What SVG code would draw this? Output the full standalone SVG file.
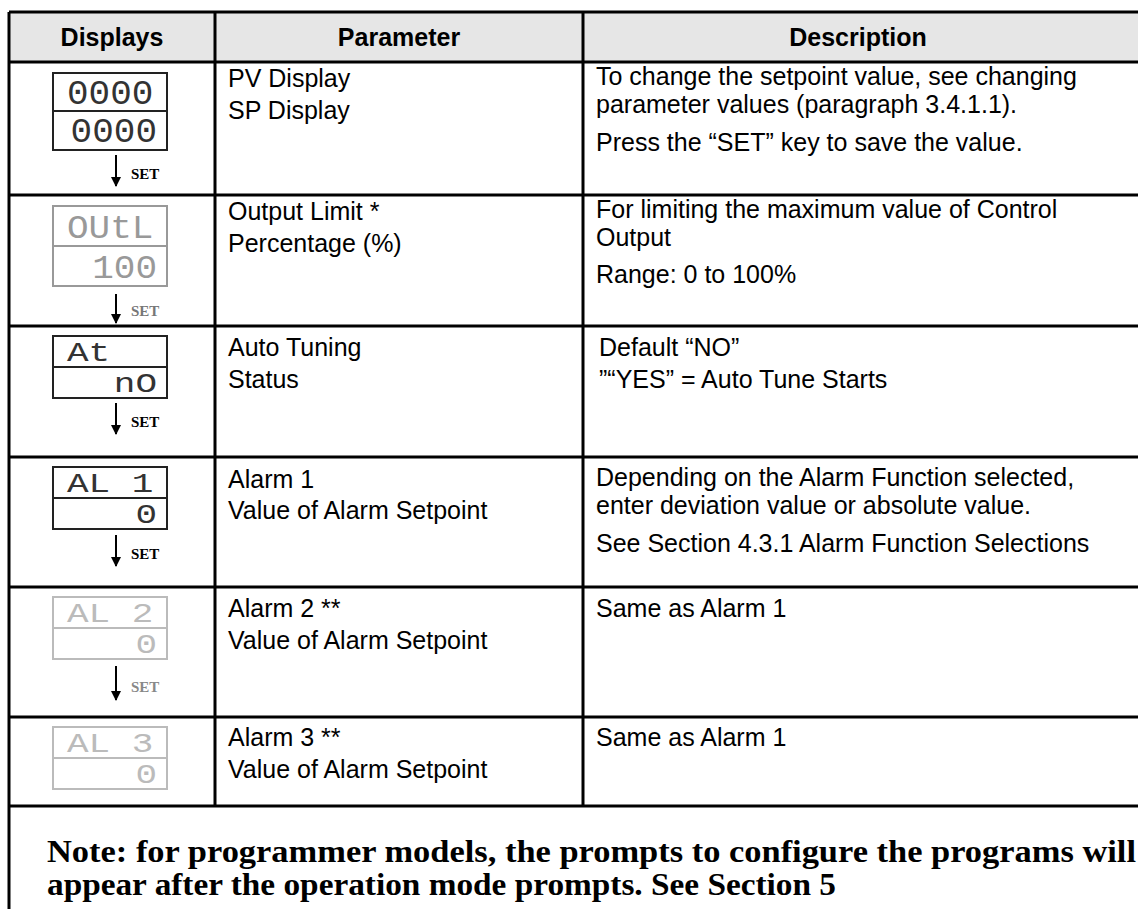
<svg xmlns="http://www.w3.org/2000/svg" width="1138" height="909" viewBox="0 0 1138 909">
<style>
.grid{stroke:#000;stroke-width:3;fill:none}
.hdr{font-family:"Liberation Sans",Arial,sans-serif;font-weight:bold;font-size:25px;fill:#000;text-anchor:middle}
.t{font-family:"Liberation Sans",Arial,sans-serif;font-size:25px;fill:#000}
.note{font-family:"Liberation Serif","Times New Roman",serif;font-weight:bold;font-size:32px;fill:#000}
.set{font-family:"Liberation Serif","Times New Roman",serif;font-weight:bold;font-size:15px}
.seg{font-family:"Liberation Mono","DejaVu Sans Mono",monospace;font-size:32px}
.seg.s{font-size:27px}
.box{stroke-width:2;fill:#fff}
.dark .box{stroke:#222}.dark .seg{fill:#333}.dark .set{fill:#000}.dark .div{stroke:#222}
.mid .box{stroke:#999}.mid .seg{fill:#999}.mid .set{fill:#777}.mid .div{stroke:#999}
.light .box{stroke:#bbb}.light .seg{fill:#bbb}.light .set{fill:#888}.light .div{stroke:#bbb}
.div{stroke-width:2}
.arr{stroke:#000;stroke-width:2}
</style>
<defs>
<marker id="ah" markerWidth="10" markerHeight="10" refX="9" refY="5" orient="auto" markerUnits="userSpaceOnUse" viewBox="0 0 10 10">
<path d="M0,0 L10,5 L0,10 Z" fill="#000"/>
</marker>
</defs>
<rect width="1138" height="909" fill="#fff"/>
<rect x="9" y="12" width="1140" height="50" fill="#e6e6e6"/>
<g id="grid">
<line class="grid" x1="9" y1="12" x2="1140" y2="12"/>
<line class="grid" x1="9" y1="62" x2="1140" y2="62"/>
<line class="grid" x1="9" y1="195" x2="1140" y2="195"/>
<line class="grid" x1="9" y1="326" x2="1140" y2="326"/>
<line class="grid" x1="9" y1="457" x2="1140" y2="457"/>
<line class="grid" x1="9" y1="587" x2="1140" y2="587"/>
<line class="grid" x1="9" y1="717" x2="1140" y2="717"/>
<line class="grid" x1="9" y1="806" x2="1140" y2="806"/>
<line class="grid" x1="9" y1="12" x2="9" y2="909"/>
<line class="grid" x1="215" y1="12" x2="215" y2="806"/>
<line class="grid" x1="583" y1="12" x2="583" y2="806"/>
</g>
<g id="header">
<text class="hdr" x="112" y="46">Displays</text>
<text class="hdr" x="399" y="46">Parameter</text>
<text class="hdr" x="858" y="46">Description</text>
</g>
<g id="row1">
<g class="dark">
<rect class="box" x="53" y="73" width="114" height="77"/>
<line class="div" x1="53" y1="111" x2="167" y2="111"/>
<text class="seg" transform="translate(67,104) scale(1.125,1.1)">0000</text>
<text class="seg" text-anchor="end" transform="translate(157,142) scale(1.125,1.1)">0000</text>
<line class="arr" x1="116" y1="155" x2="116" y2="186" marker-end="url(#ah)"/>
<text class="set" x="131" y="179">SET</text>
</g>
<text class="t" x="228" y="87">PV Display</text>
<text class="t" x="228" y="119">SP Display</text>
<text class="t" x="596" y="85">To change the setpoint value, see changing</text>
<text class="t" x="596" y="113">parameter values (paragraph 3.4.1.1).</text>
<text class="t" x="596" y="151">Press the “SET” key to save the value.</text>
</g>
<g id="row2">
<g class="mid">
<rect class="box" x="53" y="206" width="114" height="80"/>
<line class="div" x1="53" y1="246" x2="167" y2="246"/>
<text class="seg" transform="translate(67,238) scale(1.125,1.05)">OUtL</text>
<text class="seg" text-anchor="end" transform="translate(157,278) scale(1.125,1.05)">100</text>
<line class="arr" x1="116" y1="294" x2="116" y2="323" marker-end="url(#ah)"/>
<text class="set" x="131" y="316">SET</text>
</g>
<text class="t" x="228" y="220">Output Limit *</text>
<text class="t" x="228" y="252">Percentage (%)</text>
<text class="t" x="596" y="218">For limiting the maximum value of Control</text>
<text class="t" x="596" y="246">Output</text>
<text class="t" x="596" y="283">Range: 0 to 100%</text>
</g>
<g id="row3">
<g class="dark">
<rect class="box" x="53" y="336" width="114" height="62"/>
<line class="div" x1="53" y1="367" x2="167" y2="367"/>
<text class="seg s" transform="translate(67,361) scale(1.333,1)">At</text>
<text class="seg s" text-anchor="end" transform="translate(157,392) scale(1.333,1)">nO</text>
<line class="arr" x1="116" y1="403" x2="116" y2="434" marker-end="url(#ah)"/>
<text class="set" x="131" y="427">SET</text>
</g>
<text class="t" x="228" y="356">Auto Tuning</text>
<text class="t" x="228" y="388">Status</text>
<text class="t" x="599" y="356">Default “NO”</text>
<text class="t" x="599" y="388">”“YES” = Auto Tune Starts</text>
</g>
<g id="row4">
<g class="dark">
<rect class="box" x="53" y="467" width="114" height="62"/>
<line class="div" x1="53" y1="498" x2="167" y2="498"/>
<text class="seg s" transform="translate(67,492) scale(1.333,1)">AL 1</text>
<text class="seg s" text-anchor="end" transform="translate(157,523) scale(1.333,1)">0</text>
<line class="arr" x1="116" y1="535" x2="116" y2="566" marker-end="url(#ah)"/>
<text class="set" x="131" y="559">SET</text>
</g>
<text class="t" x="228" y="488">Alarm 1</text>
<text class="t" x="228" y="519">Value of Alarm Setpoint</text>
<text class="t" x="596" y="486">Depending on the Alarm Function selected,</text>
<text class="t" x="596" y="514">enter deviation value or absolute value.</text>
<text class="t" x="596" y="552">See Section 4.3.1 Alarm Function Selections</text>
</g>
<g id="row5">
<g class="light">
<rect class="box" x="53" y="597" width="114" height="62"/>
<line class="div" x1="53" y1="628" x2="167" y2="628"/>
<text class="seg s" transform="translate(67,622) scale(1.333,1)">AL 2</text>
<text class="seg s" text-anchor="end" transform="translate(157,653) scale(1.333,1)">0</text>
<line class="arr" x1="116" y1="666" x2="116" y2="700" marker-end="url(#ah)"/>
<text class="set" x="131" y="692">SET</text>
</g>
<text class="t" x="228" y="617">Alarm 2 **</text>
<text class="t" x="228" y="649">Value of Alarm Setpoint</text>
<text class="t" x="596" y="617">Same as Alarm 1</text>
</g>
<g id="row6">
<g class="light">
<rect class="box" x="53" y="727" width="114" height="62"/>
<line class="div" x1="53" y1="758" x2="167" y2="758"/>
<text class="seg s" transform="translate(67,752) scale(1.333,1)">AL 3</text>
<text class="seg s" text-anchor="end" transform="translate(157,783) scale(1.333,1)">0</text>
</g>
<text class="t" x="228" y="746">Alarm 3 **</text>
<text class="t" x="228" y="778">Value of Alarm Setpoint</text>
<text class="t" x="596" y="746">Same as Alarm 1</text>
</g>
<g id="note">
<text class="note" x="47" y="862" textLength="1089" lengthAdjust="spacingAndGlyphs">Note: for programmer models, the prompts to configure the programs will</text>
<text class="note" x="47" y="895" textLength="789" lengthAdjust="spacingAndGlyphs">appear after the operation mode prompts. See Section 5</text>
</g>
</svg>
